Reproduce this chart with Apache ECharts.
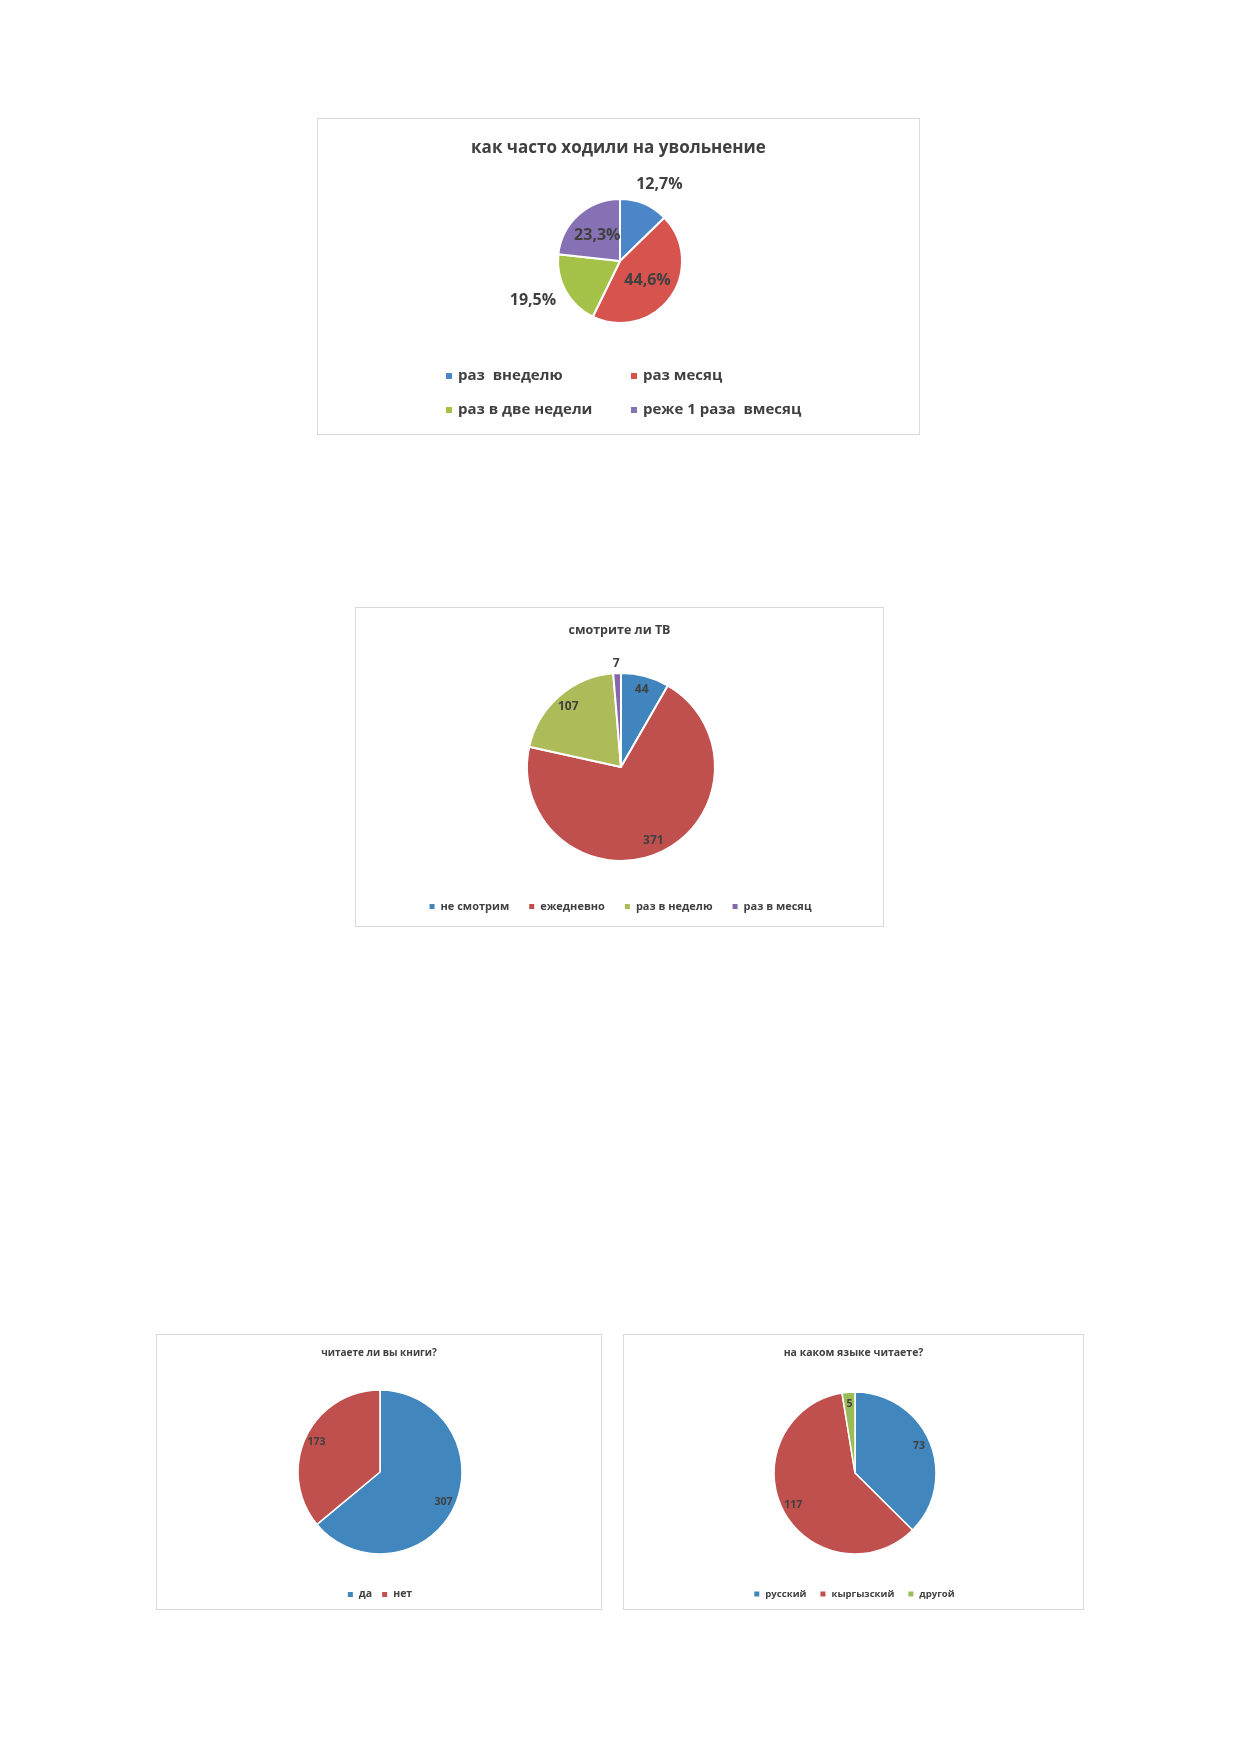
<!DOCTYPE html>
<html>
<head>
<meta charset="utf-8">
<script src="https://cdn.jsdelivr.net/npm/echarts@6/dist/echarts.min.js"></script>
<style>
  body { margin: 0; background: #fff; width: 1239px; height: 1752px; position: relative; }
  .box { position: absolute; border: 1px solid #d9d9d9; box-sizing: border-box; background: #fff; }
</style>
</head>
<body>
<div id="leave" class="box" style="left:317px;top:118px;width:603px;height:317px"></div>
<div id="tv" class="box" style="left:355px;top:607px;width:529px;height:320px"></div>
<div id="books" class="box" style="left:156px;top:1334px;width:446px;height:276px"></div>
<div id="lang" class="box" style="left:623px;top:1334px;width:461px;height:276px"></div>
<script>
// как часто ходили на увольнение (проценты)
const leaveNames = ['раз  внеделю', 'раз месяц', 'раз в две недели', 'реже 1 раза  вмесяц'];
const leaveValues = [12.7, 44.6, 19.5, 23.3];

// смотрите ли ТВ
const tvNames = ['не смотрим', 'ежедневно', 'раз в неделю', 'раз в месяц'];
const tvValues = [44, 371, 107, 7];

// читаете ли вы книги?
const booksNames = ['да', 'нет'];
const booksValues = [307, 173];

// на каком языке читаете?
const langNames = ['русский', 'кыргызский', 'другой'];
const langValues = [73, 117, 5];

const FONT = '"Open Sans", "Noto Sans", sans-serif';
const TEXT = '#404040';

function toData(names, values) {
    return names.map((n, i) => ({ name: n, value: values[i] }));
}

function titleOf(text, top, size) {
    return {
        text: text, left: 'center', top: top,
        textStyle: { fontFamily: FONT, fontSize: size, fontWeight: 'bold', color: TEXT }
    };
}

function legendOf(top, size, gap) {
    return {
        left: 'center', top: top, icon: 'rect', itemWidth: 7, itemHeight: 7, itemGap: gap,
        textStyle: { fontFamily: FONT, fontSize: size, fontWeight: 'bold', color: TEXT }
    };
}

// прозрачный слой, чтобы подписи стояли у края сектора (как "у края, внутри" в Excel)
function endLabels(names, values, center, radius, size, hidden) {
    return {
        type: 'pie', center: center, radius: [radius * 0.64, radius],
        startAngle: 90, silent: true, avoidLabelOverlap: false,
        itemStyle: { color: 'rgba(0,0,0,0)', borderWidth: 0 },
        label: {
            position: 'inside', formatter: '{c}',
            fontFamily: FONT, fontSize: size, fontWeight: 'bold', color: TEXT
        },
        labelLine: { show: false },
        emphasis: { disabled: true },
        data: toData(names, values).map((d, i) =>
            hidden.indexOf(i) >= 0 ? Object.assign(d, { label: { show: false } }) : d)
    };
}

function basePie(names, values, center, radius, border) {
    return {
        type: 'pie', center: center, radius: radius, startAngle: 90,
        avoidLabelOverlap: false,
        itemStyle: { borderColor: '#fff', borderWidth: border },
        label: { show: false },
        labelLine: { show: false },
        emphasis: { disabled: true },
        data: toData(names, values)
    };
}

// 1
const leave = echarts.init(document.getElementById('leave'));
const leavePie = basePie(leaveNames, leaveValues, [302, 142], 62, 2);
leavePie.label = {
    show: true, position: 'inside', fontFamily: FONT, fontSize: 16, fontWeight: 'bold', color: TEXT,
    formatter: p => p.value.toFixed(1).replace('.', ',') + '%'
};
leavePie.labelLine = { show: false, length: 12, length2: 0 };
// подписи снаружи у 12,7% и 19,5%
leavePie.data[0].label = { position: 'outside', distanceToLabelLine: -16 };
leavePie.data[0].labelLine = { show: false, length: 21, length2: 0 };
leavePie.data[2].label = { position: 'outside', distanceToLabelLine: -8 };
leavePie.data[2].labelLine = { show: false, length: 20, length2: 0 };
leave.setOption({
    color: ['#4a86c8', '#d6534e', '#a4c247', '#8671b4'],
    title: titleOf('как часто ходили на увольнение', 16, 17),
    legend: {
        left: 121, top: 242, width: 380, icon: 'rect', itemWidth: 8, itemHeight: 8, itemGap: 14,
        textStyle: { fontFamily: FONT, fontSize: 15, fontWeight: 'bold', color: TEXT, width: 157, lineHeight: 20 }
    },
    series: [leavePie]
});

// 2
const tv = echarts.init(document.getElementById('tv'));
const tvPie = basePie(tvNames, tvValues, [265, 159], 94, 2);
tvPie.labelLine = { show: false, length: 10, length2: 0 };
tvPie.data[3].label = {
    show: true, position: 'outside', formatter: '{c}', distanceToLabelLine: -3,
    fontFamily: FONT, fontSize: 12, fontWeight: 'bold', color: TEXT
};
tv.setOption({
    color: ['#4185be', '#c0504d', '#adbb59', '#8468ab'],
    title: titleOf('смотрите ли ТВ', 11, 12.5),
    legend: legendOf(288, 11, 18),
    series: [tvPie, endLabels(tvNames, tvValues, [265, 159], 94, 12, [3])]
});

// 3
const books = echarts.init(document.getElementById('books'));
books.setOption({
    color: ['#4186bd', '#c0504d'],
    title: titleOf('читаете ли вы книги?', 8, 10),
    legend: legendOf(249, 10.5, 8),
    series: [
        basePie(booksNames, booksValues, [223, 137], 82, 1.5),
        endLabels(booksNames, booksValues, [223, 137], 82, 10.5, [])
    ]
});

// 4
const lang = echarts.init(document.getElementById('lang'));
lang.setOption({
    color: ['#4186bd', '#c0504d', '#9bbb59'],
    title: titleOf('на каком языке читаете?', 8, 10.5),
    legend: legendOf(249, 9.6, 12),
    series: [
        basePie(langNames, langValues, [231, 138], 81, 1.5),
        endLabels(langNames, langValues, [231, 138], 81, 10.5, [])
    ]
});
</script>
</body>
</html>
